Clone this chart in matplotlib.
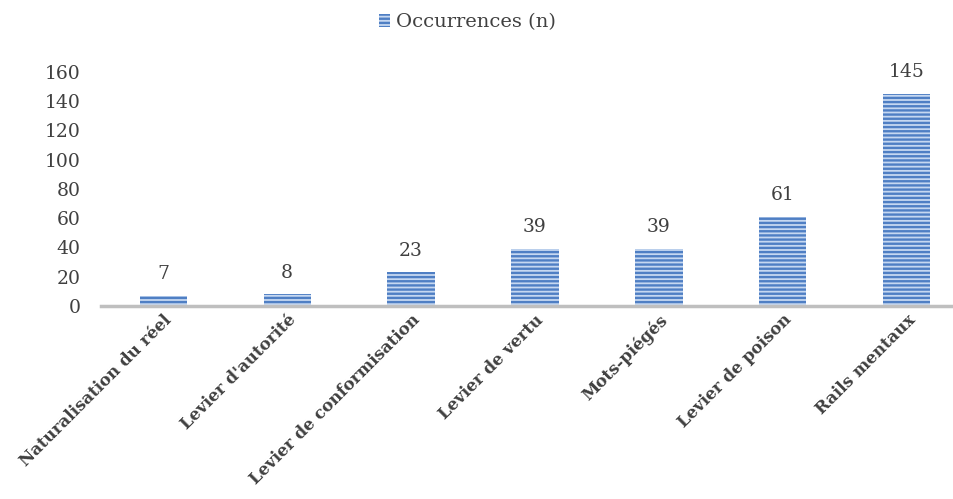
import matplotlib
matplotlib.use("Agg")
import matplotlib.pyplot as plt

categories = ["Naturalisation du réel", "Levier d'autorité", "Levier de conformisation",
              "Levier de vertu", "Mots-piégés", "Levier de poison", "Rails mentaux"]
values = [7, 8, 23, 39, 39, 61, 145]
yticks = [0, 20, 40, 60, 80, 100, 120, 140, 160]

plt.rcParams['font.family'] = ['DejaVu Serif']
plt.rcParams['hatch.linewidth'] = 1.7

fig = plt.figure(figsize=(9.54, 4.99), dpi=100)
ax = fig.add_axes([0.106, 0.387, 0.894, 0.469])

x = list(range(len(categories)))
bars = ax.bar(x, values, width=0.38, facecolor='#c6d8f1', edgecolor='#4f7fc4', linewidth=0,
              hatch='----', label='Occurrences (n)', zorder=2)
for xi, v in zip(x, values):
    ax.annotate(str(v), (xi, v), xytext=(0, 9), textcoords='offset points',
                ha='center', va='bottom', fontsize=13.5, color='#404040')

ax.set_xlim(-0.5, 6.38)
ax.set_ylim(0, 160)
ax.set_yticks(yticks)
ax.set_yticklabels([str(t) for t in yticks], fontsize=13.5, color='#404040')
ax.set_xticks(x)
ax.set_xticklabels(categories, rotation=45, ha='right', rotation_mode='anchor',
                   fontsize=12, fontweight='bold', color='#404040')
ax.tick_params(axis='both', length=0)
ax.tick_params(axis='y', pad=15)
ax.tick_params(axis='x', pad=4)
for s in ['top', 'right', 'left']:
    ax.spines[s].set_visible(False)
ax.spines['bottom'].set_color('#bfbfbf')
ax.spines['bottom'].set_linewidth(2.5)

leg = fig.legend(handles=[bars], labels=['Occurrences (n)'], loc='center',
                 bbox_to_anchor=(0.49, 0.955), frameon=False, fontsize=14,
                 handlelength=0.6, handleheight=0.6, handletextpad=0.3)
for t in leg.get_texts():
    t.set_color('#404040')

fig.savefig('out.png', dpi=100)
